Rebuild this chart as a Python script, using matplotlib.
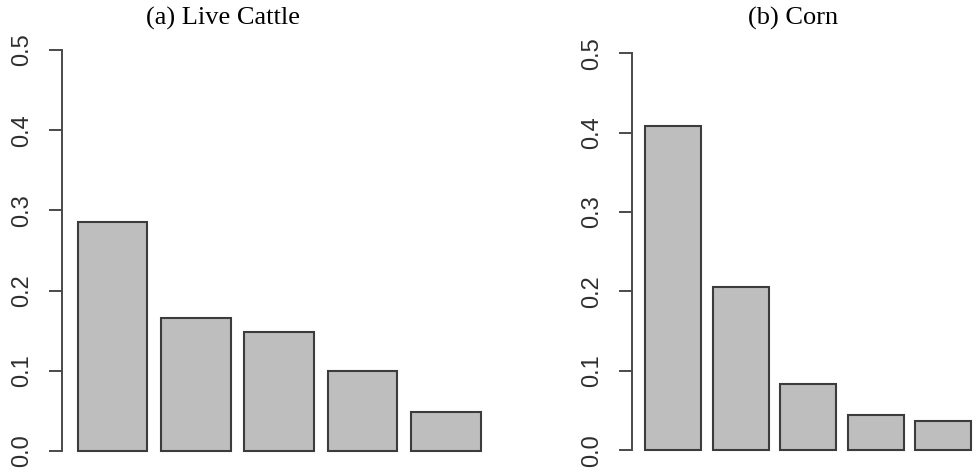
import numpy as np
import matplotlib
matplotlib.use("Agg")
import matplotlib.pyplot as plt

# bar heights
cattle = [0.285, 0.166, 0.148, 0.100, 0.048]
corn = [0.408, 0.206, 0.083, 0.045, 0.037]
titles = ["(a) Live Cattle", "(b) Corn"]
yticks = [0.0, 0.1, 0.2, 0.3, 0.4, 0.5]

fig = plt.figure(figsize=(9.78, 4.72), dpi=100)

# R barplot layout: width 1, space 0.2, xlim padded by 4%
xpos = 0.7 + 1.2 * np.arange(5)
xlim = (0.2 - 0.232, 6.0 + 0.232)

def panel(rect, vals):
    ax = fig.add_axes(rect)
    ax.bar(xpos, vals, width=1.0, color="#bebebe", edgecolor="#3c3c3c", linewidth=1.5)
    ax.set_xlim(*xlim)
    ax.set_ylim(-0.02, 0.52)
    for s in ["top", "right", "bottom"]:
        ax.spines[s].set_visible(False)
    ax.spines["left"].set_bounds(0, 0.5)
    ax.spines["left"].set_color("#4a4a4a")
    ax.spines["left"].set_linewidth(1.4)
    ax.set_xticks([])
    ax.set_yticks(yticks)
    ax.set_yticklabels(["%.1f" % t for t in yticks], rotation=90, va="center",
                       fontfamily="Liberation Sans", fontsize=17, color="#2e2e2e")
    ax.tick_params(axis="y", length=9.5, width=1.4, color="#4a4a4a", pad=11)
    ax.patch.set_visible(False)
    return ax

panel([0.063, 0.0106, 0.445, 0.9174], cattle)
panel([0.6462, 0.0123, 0.3604, 0.9085], corn)

fig.text(223 / 978, 0.947, titles[0], ha="center", va="baseline",
         fontfamily="Liberation Serif", fontsize=19)
fig.text(793 / 978, 0.947, titles[1], ha="center", va="baseline",
         fontfamily="Liberation Serif", fontsize=19)

fig.savefig("out.png", dpi=100)
